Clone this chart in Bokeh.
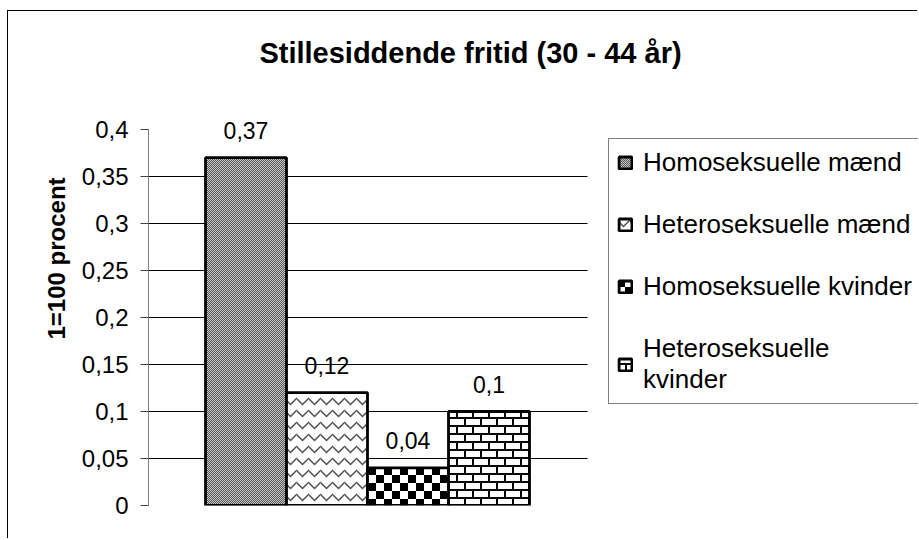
from bokeh.plotting import figure
from bokeh.models import (Range1d, FixedTicker, LabelSet, Label, Legend, LegendItem,
                          ColumnDataSource, CanvasTexture)
from bokeh.core.properties import value
from bokeh.embed import file_html
from bokeh.resources import INLINE

# ---------------- data ----------------
title_text = "Stillesiddende fritid (30 - 44 år)"
y_axis_label = "1=100 procent"
series = ["Homoseksuelle mænd", "Heteroseksuelle mænd",
          "Homoseksuelle kvinder", "Heteroseksuelle\nkvinder"]
values = [0.37, 0.12, 0.04, 0.1]
value_labels = ["0,37", "0,12", "0,04", "0,1"]
y_ticks = [0, 0.05, 0.1, 0.15, 0.2, 0.25, 0.3, 0.35, 0.4]
y_tick_labels = ["0", "0,05", "0,1", "0,15", "0,2", "0,25", "0,3", "0,35", "0,4"]
grid_ticks = [0.05, 0.1, 0.15, 0.2, 0.25, 0.3, 0.35]

positions = list(range(len(values)))

# ---------------- textures (fill patterns) ----------------
def tile_code(n, body):
    return ("var n = %d;\n"
            "if (ctx.canvas.width !== n || ctx.canvas.height !== n) {"
            " ctx.canvas.width = n; ctx.canvas.height = n; }\n" % n) + body

fine_checker = CanvasTexture(code=tile_code(4, """
ctx.fillStyle = '#c4c4c4'; ctx.fillRect(0, 0, n, n);
ctx.fillStyle = '#5a5a5a';
for (var i = 0; i < n; i++) { for (var j = 0; j < n; j++) {
  if ((i + j) % 2 === 0) { ctx.fillRect(i, j, 1, 1); } } }
"""))
big_checker = CanvasTexture(code=tile_code(16, """
ctx.fillStyle = '#ffffff'; ctx.fillRect(0, 0, n, n);
ctx.fillStyle = '#000000';
ctx.fillRect(0, 0, 8, 8);
ctx.fillRect(8, 8, 8, 8);
"""))
brick = CanvasTexture(code=tile_code(16, """
ctx.fillStyle = '#ffffff'; ctx.fillRect(0, 0, n, n);
ctx.fillStyle = '#000000';
ctx.fillRect(0, 6, 16, 2);
ctx.fillRect(0, 14, 16, 2);
ctx.fillRect(0, 0, 2, 8);
ctx.fillRect(8, 8, 2, 8);
"""))

styles = [
    dict(fill_color="#8f8f8f", hatch_pattern="dot", hatch_color="#5a5a5a",
         hatch_scale=4, hatch_weight=4, hatch_extra={"dot": fine_checker}),
    dict(fill_color="white", hatch_pattern="horizontal_wave", hatch_color="#505050",
         hatch_scale=12, hatch_weight=1.5),
    dict(fill_color="white", hatch_pattern="cross", hatch_color="black",
         hatch_scale=16, hatch_weight=16, hatch_extra={"cross": big_checker}),
    dict(fill_color="white", hatch_pattern="spiral", hatch_color="black",
         hatch_scale=16, hatch_weight=16, hatch_extra={"spiral": brick}),
]

# ---------------- layout (pixels) ----------------
W, H = 910, 528
left_px, bottom_px = 140, 34
px_per_unit_y = 940.0          # pixels per 1.0 on the value axis
bar_px = 81.0                  # pixels per bar
first_bar_left_px = 57.0       # from plot-area left edge
plot_area_px = 439.0           # width of the plotting area (gridlines)

frame_w = W - left_px
frame_h = H - bottom_px
x0 = -0.5 - first_bar_left_px / bar_px
x1 = x0 + frame_w / bar_px
grid_x1 = x0 + plot_area_px / bar_px

p = figure(width=W, height=H,
           x_range=Range1d(x0, x1), y_range=Range1d(0, frame_h / px_per_unit_y),
           output_backend="svg", toolbar_location=None,
           min_border_left=left_px, min_border_right=0,
           min_border_top=0, min_border_bottom=bottom_px)
p.styles = {"margin-left": "7px", "margin-top": "10px",
            "border-left": "1px solid black", "border-top": "1px solid black"}
p.background_fill_color = "white"
p.border_fill_color = "white"
p.outline_line_color = None

p.xaxis.visible = False
p.xgrid.visible = False
p.ygrid.visible = False

# horizontal gridlines limited to the plotting area
p.segment(x0=[x0] * len(grid_ticks), x1=[grid_x1] * len(grid_ticks),
          y0=grid_ticks, y1=grid_ticks, line_color="black", line_width=1)

ax = p.yaxis[0]
ax.bounds = (y_ticks[0], y_ticks[-1])
ax.ticker = FixedTicker(ticks=y_ticks)
ax.major_label_overrides = dict(zip(y_ticks, y_tick_labels))
ax.axis_line_color = "#808080"
ax.major_tick_line_color = "#404040"
ax.major_tick_out = 8
ax.major_tick_in = 0
ax.minor_tick_line_color = None
ax.major_label_standoff = 12
ax.major_label_text_font = "Liberation Sans"
ax.major_label_text_font_size = "24px"
ax.major_label_text_color = "black"
ax.axis_label = y_axis_label
ax.axis_label_text_font = "Liberation Sans"
ax.axis_label_text_font_style = "bold"
ax.axis_label_text_font_size = "24px"
ax.axis_label_text_color = "black"
ax.axis_label_standoff = 9

items = []
for i in range(len(values)):
    src = ColumnDataSource(dict(x=[positions[i]], top=[values[i]]))
    r = p.vbar(x="x", top="top", bottom=0, width=1.0, source=src,
               line_color="black", line_width=2.8, **styles[i])
    items.append(LegendItem(label=series[i], renderers=[r]))

lab_src = ColumnDataSource(dict(x=positions, y=values, text=value_labels))
p.add_layout(LabelSet(x="x", y="y", text="text", source=lab_src,
                      text_align="center", text_baseline="alphabetic", y_offset=19,
                      text_font=value("Liberation Sans"),
                      text_font_size=value("23px"), text_color="black"))

p.add_layout(Label(x=322, y=453, x_units="screen", y_units="screen",
                   text=title_text, text_align="center", text_baseline="alphabetic",
                   text_font="Liberation Sans", text_font_style="bold",
                   text_font_size="29px", text_color="black"))

legend = Legend(items=items, location=(460, 101),
                glyph_width=16, glyph_height=15, label_standoff=10,
                padding=8, spacing=31, label_height=30, label_width=320, margin=0,
                label_text_font="Liberation Sans", label_text_font_size="26px",
                label_text_color="black",
                border_line_color="black", border_line_width=1,
                background_fill_color="white", background_fill_alpha=1.0)
p.add_layout(legend)

open("out.html", "w").write(file_html(p, INLINE))
